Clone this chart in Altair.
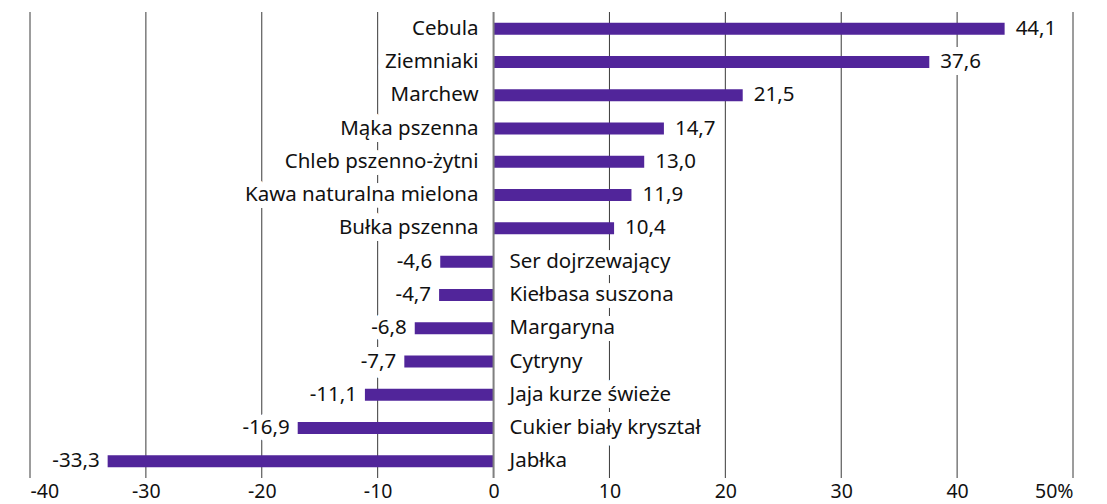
import altair as alt
import pandas as pd

categories = ["Cebula", "Ziemniaki", "Marchew", "Mąka pszenna", "Chleb pszenno-żytni",
              "Kawa naturalna mielona", "Bułka pszenna", "Ser dojrzewający", "Kiełbasa suszona",
              "Margaryna", "Cytryny", "Jaja kurze świeże", "Cukier biały kryształ", "Jabłka"]
values = [44.1, 37.6, 21.5, 14.7, 13.0, 11.9, 10.4, -4.6, -4.7, -6.8, -7.7, -11.1, -16.9, -33.3]
ticks = [-40, -30, -20, -10, 0, 10, 20, 30, 40, 50]

FONT = "Noto Sans"
FS = 20.5
AXFS = 19.5
BAR = "#51259a"

df = pd.DataFrame({"cat": categories, "val": values})
df["zero"] = 0
df["vlabel"] = [f"{v:.1f}".replace(".", ",") for v in values]

xscale = alt.Scale(domain=[-40, 50], nice=False, zero=False)
yscale = alt.Scale(domain=categories, paddingInner=0, paddingOuter=0)

base = alt.Chart(df).encode(
    y=alt.Y("cat:N", sort=categories, scale=yscale, axis=None)
)

grid = alt.Chart(pd.DataFrame({"t": ticks})).mark_rule(color="#3a3a3a", strokeWidth=1).encode(
    x=alt.X("t:Q", scale=xscale,
            axis=alt.Axis(values=ticks, grid=False, domain=False, ticks=False,
                          labelFont=FONT, labelFontSize=AXFS, labelColor="#111",
                          labelPadding=4, title=None,
                          labelExpr="datum.value == 50 ? '50%' : '' + datum.value"))
)

cat_pos = base.transform_filter(alt.datum.val >= 0)
cat_neg = base.transform_filter(alt.datum.val < 0)

def label_layers(fill, stroke, sw):
    kw = dict(font=FONT, fontSize=FS, fill=fill, baseline="middle")
    if stroke:
        kw.update(stroke=stroke, strokeWidth=sw, strokeJoin="round")
    l1 = cat_pos.mark_text(align="right", dx=-15, **kw).encode(
        x=alt.X("zero:Q", scale=xscale), text="cat:N")
    l2 = cat_neg.mark_text(align="left", dx=16, **kw).encode(
        x=alt.X("zero:Q", scale=xscale), text="cat:N")
    l3 = cat_pos.mark_text(align="left", dx=11, **kw).encode(
        x=alt.X("val:Q", scale=xscale), text="vlabel:N")
    l4 = cat_neg.mark_text(align="right", dx=-8, **kw).encode(
        x=alt.X("val:Q", scale=xscale), text="vlabel:N")
    return [l1, l2, l3, l4]

halo = label_layers("white", "white", 14)
texts = label_layers("#111", None, 0)

bars = base.mark_bar(color=BAR, size=12).encode(
    x=alt.X("val:Q", scale=xscale),
    x2=alt.X2("zero:Q")
)

zero_rule = alt.Chart(pd.DataFrame({"z": [0]})).mark_rule(color="#808080", strokeWidth=2).encode(
    x=alt.X("z:Q", scale=xscale)
)

chart = alt.layer(grid, *halo, bars, zero_rule, *texts).properties(
    width=1043, height=466,
    autosize=alt.AutoSizeParams(type="none"),
    padding={"left": 22, "top": 4, "right": 24, "bottom": 26},
).configure_view(stroke=None)

chart.save("out.html", embed_options={"renderer": "svg", "actions": False})
